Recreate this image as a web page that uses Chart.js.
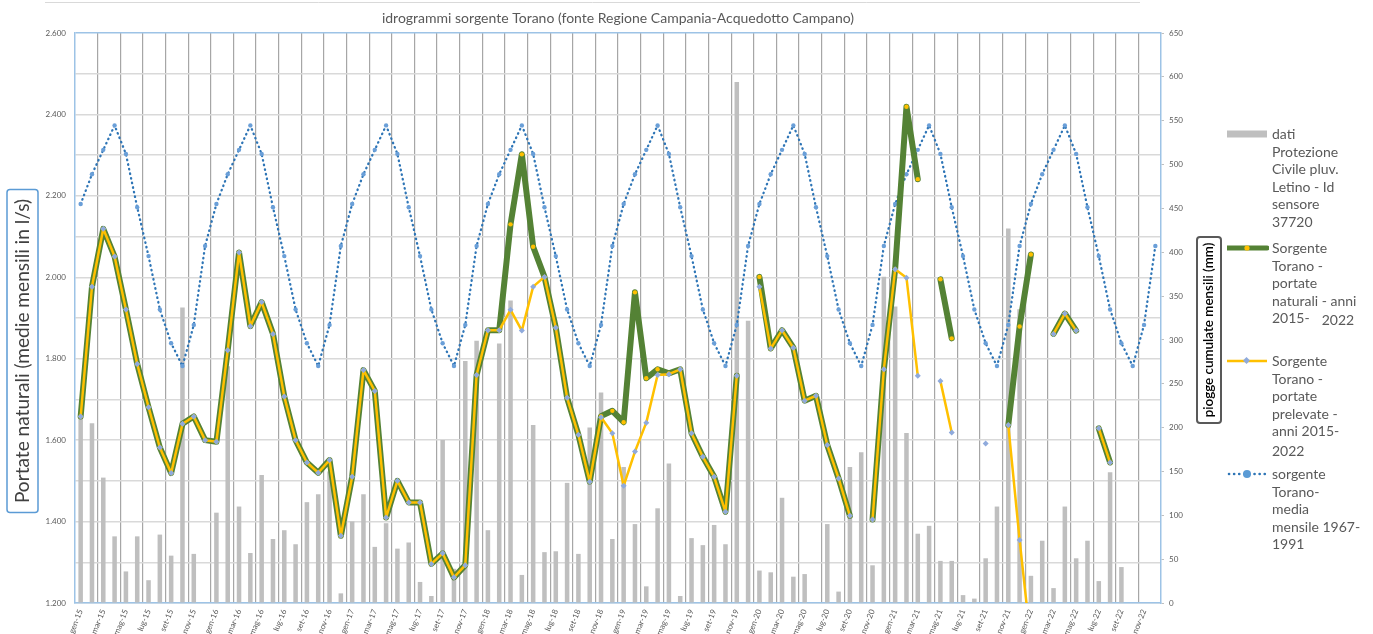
<!DOCTYPE html>
<html lang="it">
<head>
<meta charset="utf-8">
<title>idrogrammi sorgente Torano</title>
<script src="https://cdn.jsdelivr.net/npm/chart.js@4.4.1/dist/chart.umd.min.js"></script>
<style>
  html, body { margin: 0; padding: 0; background: #fff; }
  #wrap { position: relative; width: 1373px; height: 634px; }
  #grafico { position: absolute; left: 0; top: 0; }
  #legenda { position: absolute; left: 1225px; top: 0; width: 148px; height: 634px;
             font-family: Lato, "Open Sans", sans-serif; font-size: 14px; line-height: 17.6px; color: #595959; }
  .voce { position: absolute; left: 0; padding-left: 47px; white-space: nowrap; }
  .voce svg { position: absolute; left: 2px; top: 3px; }
  .tardi { display: inline-block; margin-left: 12px; position: relative; top: 2px; }
</style>
</head>
<body>
<div id="wrap">
  <canvas id="grafico" width="1373" height="634"></canvas>
  <div id="legenda">
    <div class="voce" style="top:125px">
      <svg width="42" height="12"><rect x="0" y="2.5" width="40" height="7" fill="#BFBFBF"/></svg>
      dati<br>Protezione<br>Civile pluv.<br>Letino - Id<br>sensore<br>37720
    </div>
    <div class="voce" style="top:239px">
      <svg width="42" height="12"><line x1="0" y1="6" x2="40" y2="6" stroke="#548235" stroke-width="5" stroke-linecap="round"/><circle cx="20" cy="6" r="2.6" fill="#FFC000"/></svg>
      Sorgente<br>Torano -<br>portate<br>naturali - anni<br>2015-<span class="tardi">2022</span>
    </div>
    <div class="voce" style="top:352px">
      <svg width="42" height="12"><line x1="0" y1="6" x2="40" y2="6" stroke="#FFC000" stroke-width="2.5"/><rect x="17" y="3" width="5" height="5" fill="#8FAADC" transform="rotate(45 19.5 5.5)"/></svg>
      Sorgente<br>Torano -<br>portate<br>prelevate -<br>anni 2015-<br><span style="position:relative;top:2px">2022</span>
    </div>
    <div class="voce" style="top:465px">
      <svg width="42" height="12"><line x1="2" y1="6" x2="40" y2="6" stroke="#2E75B6" stroke-width="2.6" stroke-linecap="round" stroke-dasharray="0.1 5"/><circle cx="20" cy="6" r="4" fill="#5B9BD5"/></svg>
      sorgente<br>Torano-<br>media<br>mensile 1967-<br>1991
    </div>
  </div>
</div>
<script>
// categorie: mesi da gen-15 a dic-22
const mesi = ['gen', 'feb', 'mar', 'apr', 'mag', 'giu', 'lug', 'ago', 'set', 'ott', 'nov', 'dic'];
const anni = ['15', '16', '17', '18', '19', '20', '21', '22'];
const etichetteMesi = [];
anni.forEach(a => mesi.forEach(m => etichetteMesi.push(m + '-' + a)));

// piogge cumulate mensili (mm) - pluviometro Letino
const pioggeCumulate = [
  212, 205, 143, 76, 36, 76, 26, 78, 54, 337, 56, 0,
  103, 270, 110, 57, 146, 73, 83, 67, 115, 124, 150, 11,
  93, 124, 64, 91, 62, 69, 24, 8, 186, 39, 276, 299,
  83, 296, 345, 32, 203, 58, 59, 137, 56, 200, 240, 73,
  155, 90, 19, 108, 159, 8, 74, 66, 89, 67, 594, 322,
  37, 35, 120, 30, 33, 0, 90, 13, 155, 172, 43, 372,
  338, 194, 79, 88, 48, 48, 9, 5, 51, 110, 427, 335,
  31, 71, 17, 110, 51, 71, 25, 149, 41, 0, 0, 0
];

// portate naturali (l/s)
const portateNaturali = [
  1658, 1977, 2119, 2051, 1921, 1787, 1681, 1582, 1519, 1640, 1658, 1600,
  1596, 1821, 2061, 1880, 1939, 1861, 1707, 1600, 1545, 1520, 1551, 1365,
  1510, 1772, 1721, 1410, 1500, 1447, 1447, 1296, 1322, 1263, 1293, 1760,
  1870, 1870, 2130, 2302, 2075, 2001, 1876, 1704, 1613, 1498, 1659, 1672,
  1644, 1963, 1752, 1774, 1764, 1774, 1617, 1559, 1510, 1424, 1758, null,
  2001, 1825, 1870, 1827, 1697, 1709, 1588, 1506, 1414, null, 1405, 1774,
  2020, 2419, 2241, null, 1995, 1850, null, null, null, null, 1637, 1879,
  2056, null, 1861, 1911, 1869, null, 1629, 1545, null, null, null, null
];

// portate prelevate (l/s)
const portatePrelevate = [
  1658, 1977, 2119, 2051, 1921, 1787, 1681, 1582, 1519, 1640, 1658, 1600,
  1596, 1821, 2061, 1880, 1939, 1861, 1707, 1600, 1545, 1520, 1551, 1365,
  1510, 1772, 1721, 1410, 1500, 1447, 1447, 1296, 1322, 1263, 1293, 1760,
  1870, 1870, 1920, 1869, 1977, 2001, 1876, 1704, 1613, 1498, 1656, 1617,
  1488, 1572, 1643, 1760, 1762, 1774, 1617, 1559, 1510, 1424, 1758, null,
  1977, 1825, 1870, 1827, 1697, 1709, 1588, 1506, 1414, null, 1405, 1774,
  2020, 1999, 1758, null, 1745, 1619, null, null, 1592, null, 1637, 1355,
  1100, null, 1861, 1911, 1869, null, 1629, 1545, null, null, null, null
];

// media mensile 1967-1991 (l/s), riportata per ogni anno
const mediaMensile = [
  2180, 2253, 2313, 2373, 2303, 2172, 2052, 1921, 1838, 1782, 1883, 2077,
  2180, 2253, 2313, 2373, 2303, 2172, 2052, 1921, 1838, 1782, 1883, 2077,
  2180, 2253, 2313, 2373, 2303, 2172, 2052, 1921, 1838, 1782, 1883, 2077,
  2180, 2253, 2313, 2373, 2303, 2172, 2052, 1921, 1838, 1782, 1883, 2077,
  2180, 2253, 2313, 2373, 2303, 2172, 2052, 1921, 1838, 1782, 1883, 2077,
  2180, 2253, 2313, 2373, 2303, 2172, 2052, 1921, 1838, 1782, 1883, 2077,
  2180, 2253, 2313, 2373, 2303, 2172, 2052, 1921, 1838, 1782, 1883, 2077,
  2180, 2253, 2313, 2373, 2303, 2172, 2052, 1921, 1838, 1782, 1883, 2077
];

const fontBase = 'Lato';

// titoli degli assi dentro un riquadro, come nel foglio originale
const titoliAssi = {
  id: 'titoliAssi',
  afterDraw(chart) {
    const c = chart.ctx;
    const area = chart.chartArea;
    const midY = (area.top + area.bottom) / 2;
    c.save();

    // linea sottile in alto
    c.strokeStyle = '#D9D9D9';
    c.lineWidth = 1;
    c.beginPath();
    c.moveTo(45, 2.5);
    c.lineTo(1140, 2.5);
    c.stroke();

    // asse sinistro
    let testo = 'Portate naturali (medie mensili in l/s)';
    c.font = '19px ' + fontBase;
    let w = c.measureText(testo).width;
    let size = 19 * 305 / w;
    c.font = size.toFixed(1) + 'px ' + fontBase;
    c.strokeStyle = '#5B9BD5';
    c.lineWidth = 1.5;
    c.beginPath();
    c.roundRect(7, midY + 33 - 161.5, 31, 323, 3);
    c.stroke();
    c.translate(23, midY + 33);
    c.rotate(-Math.PI / 2);
    c.fillStyle = '#404040';
    c.textAlign = 'center';
    c.textBaseline = 'middle';
    c.fillText(testo, 0, 0);
    c.restore();

    // asse destro
    c.save();
    testo = 'piogge cumulate mensili (mm)';
    const xr = chart.scales.y1.right - 16;
    c.font = '600 15px ' + fontBase;
    w = c.measureText(testo).width;
    size = 15 * 175 / w;
    c.font = '600 ' + size.toFixed(1) + 'px ' + fontBase;
    c.strokeStyle = '#595959';
    c.lineWidth = 2;
    c.beginPath();
    c.roundRect(xr - 12, midY + 12 - 93, 24, 186, 3);
    c.stroke();
    c.translate(xr, midY + 12);
    c.rotate(-Math.PI / 2);
    c.fillStyle = '#000';
    c.textAlign = 'center';
    c.textBaseline = 'middle';
    c.fillText(testo, 0, 0);
    c.restore();
  }
};

const config = {
  type: 'bar',
  data: {
    labels: etichetteMesi,
    datasets: [
      {
        type: 'line',
        label: 'sorgente Torano- media mensile 1967-1991',
        data: mediaMensile,
        yAxisID: 'y',
        borderColor: '#2E75B6',
        borderWidth: 2.3,
        borderDash: [0.5, 4.2],
        borderCapStyle: 'round',
        borderJoinStyle: 'round',
        pointRadius: 2.2,
        pointBackgroundColor: '#6A9FD8',
        pointBorderWidth: 0,
        order: 3
      },
      {
        type: 'line',
        label: 'Sorgente Torano - portate naturali - anni 2015-2022',
        data: portateNaturali,
        yAxisID: 'y',
        borderColor: '#548235',
        borderWidth: 6,
        borderJoinStyle: 'round',
        borderCapStyle: 'round',
        pointRadius: 2.2,
        pointBackgroundColor: '#FFC000',
        pointBorderWidth: 0,
        order: 2
      },
      {
        type: 'line',
        label: 'Sorgente Torano - portate prelevate - anni 2015-2022',
        data: portatePrelevate,
        yAxisID: 'y',
        borderColor: '#FFC000',
        borderWidth: 2.5,
        borderJoinStyle: 'round',
        pointStyle: 'rectRot',
        pointRadius: 3,
        pointBackgroundColor: '#8FAADC',
        pointBorderWidth: 0,
        order: 1
      },
      {
        type: 'bar',
        label: 'dati Protezione Civile pluv. Letino - Id sensore 37720',
        data: pioggeCumulate,
        yAxisID: 'y1',
        backgroundColor: '#BFBFBF',
        barPercentage: 0.4,
        categoryPercentage: 1,
        order: 4
      }
    ]
  },
  options: {
    responsive: false,
    animation: false,
    layout: { padding: { left: 0, right: 148, top: 0, bottom: 0 } },
    plugins: {
      legend: { display: false },
      tooltip: { enabled: false },
      title: {
        display: true,
        text: 'idrogrammi sorgente Torano (fonte Regione Campania-Acquedotto Campano)',
        color: '#595959',
        font: { family: fontBase, size: 14, weight: 'normal' },
        padding: { top: 10, bottom: 6.2 },
        fullSize: false
      }
    },
    scales: {
      x: {
        offset: true,
        grid: {
          offset: true,
          drawTicks: false,
          lineWidth: 1.2,
          color: c => (c.index > 0 && c.index % 2 === 0) ? '#A6A6A6' : 'rgba(0,0,0,0)'
        },
        border: { color: '#9DC3E6', width: 1.5 },
        ticks: {
          autoSkip: false,
          minRotation: 68,
          maxRotation: 68,
          padding: 5,
          color: '#595959',
          font: { family: fontBase, size: 8 },
          callback: (v, i) => i % 2 === 0 ? etichetteMesi[i] : ''
        },
        afterFit: s => { s.height = 31; }
      },
      y: {
        position: 'left',
        min: 1200,
        max: 2600,
        grid: {
          drawTicks: false,
          lineWidth: 1.5,
          color: c => (c.tick && c.tick.value === 2600) ? '#9DC3E6' : '#D9D9D9'
        },
        border: { color: '#9DC3E6', width: 1.5 },
        ticks: {
          stepSize: 100,
          padding: 9,
          color: '#595959',
          font: { family: fontBase, size: 8 },
          callback: v => v % 200 === 0 ? (v / 1000).toFixed(3) : ''
        },
        afterFit: s => { s.width = 75; }
      },
      y1: {
        position: 'right',
        min: 0,
        max: 650,
        grid: { drawOnChartArea: false, tickLength: 3, color: '#BFBFBF' },
        border: { color: '#9DC3E6', width: 1.5 },
        ticks: {
          stepSize: 50,
          padding: 5,
          color: '#595959',
          font: { family: fontBase, size: 8 }
        },
        afterFit: s => { s.width = 64; }
      }
    }
  },
  plugins: [titoliAssi]
};

new Chart(document.getElementById('grafico'), config);
</script>
</body>
</html>
